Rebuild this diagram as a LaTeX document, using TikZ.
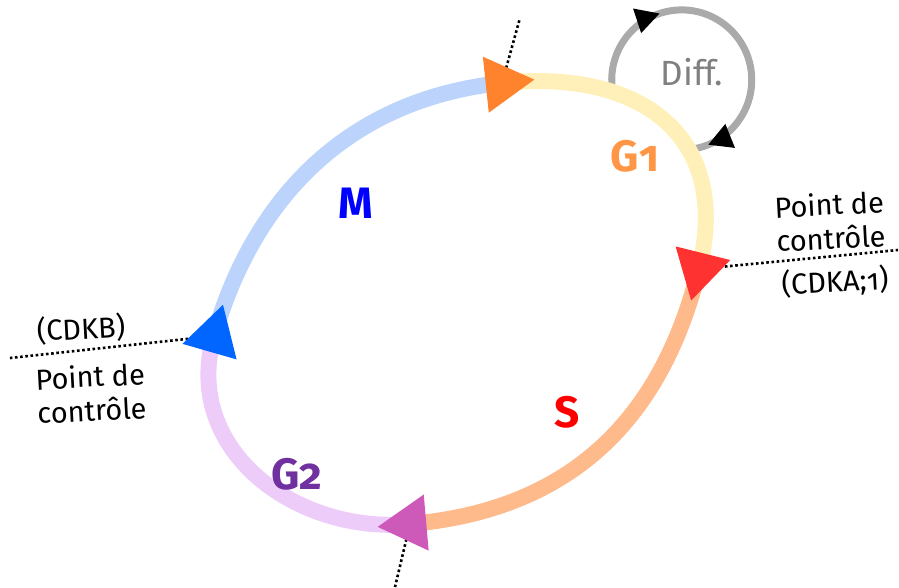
\documentclass[tikz,border=0pt]{standalone}
\usepackage{fontspec}
\setmainfont{Fira Sans}[Numbers=OldStyle]
\usetikzlibrary{arrows.meta,shapes.geometric,decorations.markings}
\definecolor{RingM}{RGB}{188,212,252}
\definecolor{RingG1}{RGB}{255,240,185}
\definecolor{RingS}{RGB}{255,186,140}
\definecolor{RingG2}{RGB}{238,204,250}
\definecolor{TriM}{RGB}{0,102,255}
\definecolor{TriG1}{RGB}{255,130,45}
\definecolor{TriS}{RGB}{255,50,50}
\definecolor{TriG2}{RGB}{205,90,185}
\definecolor{TxtM}{RGB}{0,0,255}
\definecolor{TxtG1}{RGB}{255,150,70}
\definecolor{TxtS}{RGB}{255,0,0}
\definecolor{TxtG2}{RGB}{112,48,160}
\definecolor{DiffGrey}{RGB}{170,170,170}
\definecolor{DiffTxt}{RGB}{128,128,128}

\begin{document}
\begin{tikzpicture}[x=1pt,y=1pt,
    ring/.style={line width=16pt},
    tri/.style={regular polygon,regular polygon sides=3,minimum size=65pt,inner sep=0pt},
    ctrl/.style={line width=2.6pt,dash pattern=on 2.6pt off 2.6pt},
    phase/.style={font=\fontsize{44}{44}\selectfont\bfseries},
    note/.style={font=\fontsize{29}{34}\selectfont,align=center,rotate=3},
    diffloop/.style={line width=7pt,DiffGrey,postaction={decorate},
      decoration={markings,
        mark=at position 0.29 with {\arrow{Triangle[length=24pt,width=24pt,color=black]}},
        mark=at position 0.955 with {\arrow{Triangle[length=24pt,width=24pt,color=black]}}}}
  ]
    \useasboundingbox (0,0) rectangle (899,-587);

    % junctions of the cycle
    \coordinate (jO) at (502,-83);
    \coordinate (jR) at (699,-269);
    \coordinate (jM) at (410,-524);
    \coordinate (jB) at (214,-336);
    % ends of the checkpoint lines
    \coordinate (eO) at (520,-18);
    \coordinate (eR) at (898,-250);
    \coordinate (eM) at (395,-587);
    \coordinate (eB) at (10,-358);
    \coordinate (dstart) at (612,-86);

    \draw[ctrl] (jO) -- (eO);
    \draw[ctrl] (jR) -- (eR);
    \draw[ctrl] (jM) -- (eM);
    \draw[ctrl] (jB) -- (eB);

    % differentiation loop
    \draw[diffloop] (dstart) arc[start angle=185,end angle=-80,radius=70];

    % phases
    \draw[ring,RingM] (jB) to[out=74,in=186,looseness=1.0] (jO);
    \draw[ring,RingG1] (jO) to[out=6,in=76,looseness=1.3] (jR);
    \draw[ring,RingS] (jR) to[out=256,in=5,looseness=1.05] (jM);
    \draw[ring,RingG2] (jM) to[out=185,in=254,looseness=1.1] (jB);

    \node[tri,fill=TriG1,rotate=-84] (triO) at (jO) {};
    \node[tri,fill=TriS,rotate=166] (triR) at (jR) {};
    \node[tri,fill=TriG2,rotate=95] (triM) at (jM) {};
    \node[tri,fill=TriM,rotate=-16] (triB) at (jB) {};

    \node[phase,text=TxtM] (labM) at (356,-203) {M};
    \node[phase,text=TxtG1] (labG1) at (635,-156) {G1};
    \node[phase,text=TxtS] (labS) at (567,-412) {S};
    \node[phase,text=TxtG2] (labG2) at (297,-474) {G2};
    \node[font=\fontsize{35}{35}\selectfont,text=DiffTxt] (labDiff) at (692,-72) {Diff.};

    \node[note] (ptA) at (830,-221) {Point de\\contrôle};
    \node[note] (cdka) at (835,-282) {(CDKA;1)};
    \node[note] (cdkb) at (81,-329) {(CDKB)};
    \node[note] (ptB) at (91,-393) {Point de\\contrôle};
  \end{tikzpicture}
\end{document}
